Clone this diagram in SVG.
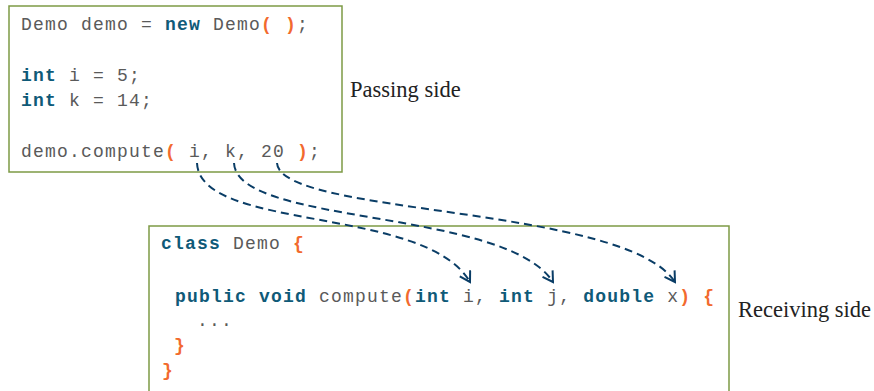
<svg xmlns="http://www.w3.org/2000/svg" width="874" height="391" viewBox="0 0 874 391">
<style>
.box{fill:#fff;stroke:#7d9a45;stroke-width:1.5}
.code{font-family:"Liberation Mono","Courier New",monospace;font-size:18px;letter-spacing:1.2px;fill:#5a5a5a;white-space:pre}
.kw{fill:#0f5a78;font-weight:bold}
.p{fill:#f26a2e;font-weight:bold}
.lbl{font-family:"Liberation Serif","Times New Roman",serif;font-size:22.5px;fill:#222}
.con{fill:none;stroke:#0a3d66;stroke-width:2;stroke-dasharray:8 5}
</style>
<defs>
<marker id="arr" viewBox="0 0 14 14" refX="12" refY="7" markerWidth="14" markerHeight="14" markerUnits="userSpaceOnUse" orient="auto">
<path d="M2,1 L12,7 L2,13" fill="none" stroke="#0a3d66" stroke-width="2"/>
</marker>
</defs>
<g id="passing">
<rect class="box" x="9" y="6" width="333" height="166"/>
<text class="code" x="21" y="30">Demo demo = <tspan class="kw">new</tspan> Demo<tspan class="p">( )</tspan>;</text>
<text class="code" x="21" y="81"><tspan class="kw">int</tspan> i = 5;</text>
<text class="code" x="21" y="106"><tspan class="kw">int</tspan> k = 14;</text>
<text class="code" x="21" y="157">demo.compute<tspan class="p">(</tspan> i, k, 20 <tspan class="p">)</tspan>;</text>
<text class="lbl" x="350" y="97">Passing side</text>
</g>
<g id="receiving">
<rect class="box" x="149" y="226" width="580" height="180"/>
<text class="code" x="161" y="249"><tspan class="kw">class</tspan> Demo <tspan class="p">{</tspan></text>
<text class="code" x="175" y="302"><tspan class="kw">public</tspan> <tspan class="kw">void</tspan> compute<tspan class="p">(</tspan><tspan class="kw">int</tspan> i, <tspan class="kw">int</tspan> j, <tspan class="kw">double</tspan> x<tspan class="p">)</tspan> <tspan class="p">{</tspan></text>
<text class="code" x="197" y="326">...</text>
<text class="code p" x="174" y="351">}</text>
<text class="code p" x="162" y="376">}</text>
<text class="lbl" x="738" y="317">Receiving side</text>
</g>
<g id="connectors">
<path class="con" d="M197,163 C200,232 425,205 470,282" marker-end="url(#arr)"/>
<path class="con" d="M234,163 C237,226 505,208 553,282" marker-end="url(#arr)"/>
<path class="con" d="M277,163 C280,216 625,205 675,282" marker-end="url(#arr)"/>
</g>
</svg>
